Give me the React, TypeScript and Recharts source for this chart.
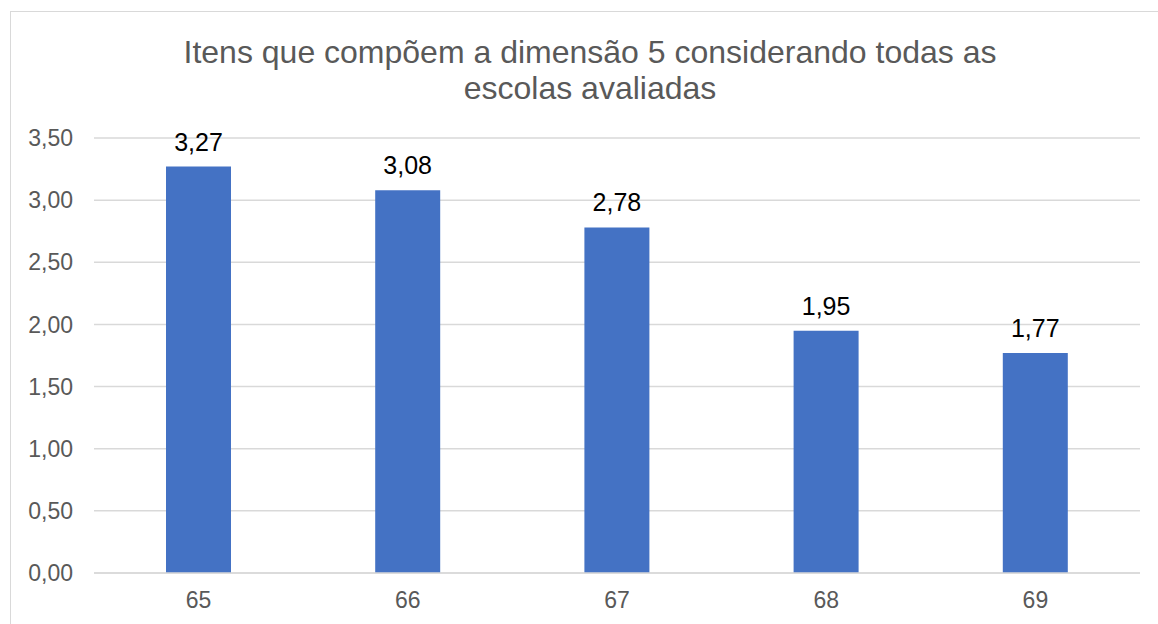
import React from 'react';
import { BarChart, Bar, XAxis, YAxis, CartesianGrid, LabelList } from 'recharts';

// itens da dimensão 5
const itens = ['65', '66', '67', '68', '69'];
const medias = [3.27, 3.08, 2.78, 1.95, 1.77];
const yTicks = [0, 0.5, 1, 1.5, 2, 2.5, 3, 3.5];
const tituloLinhas = ['Itens que compõem a dimensão 5 considerando todas as', 'escolas avaliadas'];

const FONT = '"Liberation Sans", Arial, sans-serif';
const BAR_COLOR = '#4472C4';
const GRID = '#d9d9d9';
const TEXT = '#595959';

const fmt = (v: number) => v.toFixed(2).replace('.', ',');

export default function App() {
  const data = itens.map((item, i) => ({ item, media: medias[i] }));

  return (
    <div
      style={{
        position: 'absolute',
        left: 0,
        top: 0,
        width: 1158,
        height: 624,
        overflow: 'hidden',
        background: '#fff',
        fontFamily: FONT,
      }}
    >
      <div
        style={{
          position: 'absolute',
          left: 10,
          top: 11,
          width: 1200,
          height: 700,
          border: `1px solid ${GRID}`,
        }}
      />
      <svg width={1158} height={120} style={{ position: 'absolute', left: 0, top: 0 }}>
        {tituloLinhas.map((linha, i) => (
          <text
            key={i}
            x={590}
            y={63 + i * 36}
            textAnchor="middle"
            fontFamily={FONT}
            fontSize={32}
            fill={TEXT}
          >
            {linha}
          </text>
        ))}
      </svg>
      <div style={{ position: 'absolute', left: 0, top: 0 }}>
        <BarChart
          width={1158}
          height={624}
          data={data}
          margin={{ top: 138, right: 18, bottom: 0, left: 0 }}
        >
          <CartesianGrid vertical={false} stroke={GRID} strokeWidth={1.5} />
          <XAxis
            dataKey="item"
            height={51}
            axisLine={{ stroke: GRID, strokeWidth: 1.5 }}
            tickLine={false}
            tickSize={0}
            tickMargin={19}
            tick={{ fontSize: 23, fill: TEXT, fontFamily: FONT }}
          />
          <YAxis
            width={94}
            domain={[0, 3.5]}
            ticks={yTicks}
            tickFormatter={fmt}
            axisLine={false}
            tickLine={false}
            tickSize={0}
            tickMargin={21}
            tick={{ fontSize: 23, fill: TEXT, fontFamily: FONT }}
          />
          <Bar dataKey="media" fill={BAR_COLOR} barSize={65} isAnimationActive={false}>
            <LabelList
              dataKey="media"
              position="top"
              offset={16}
              formatter={(v: any) => fmt(Number(v))}
              style={{ fontSize: 25, fill: '#000', fontFamily: FONT }}
            />
          </Bar>
        </BarChart>
      </div>
    </div>
  );
}
